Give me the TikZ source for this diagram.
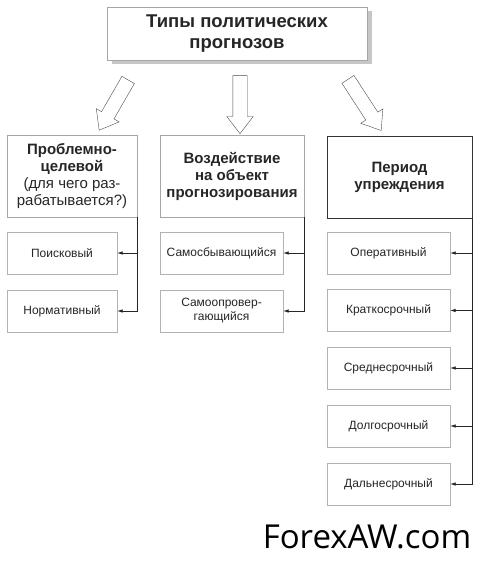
\documentclass[tikz,border=0pt]{standalone}
\usepackage{fontspec}
\setmainfont{Liberation Sans}
\newfontfamily\wmfont{Open Sans}
\usetikzlibrary{shapes.arrows,shadows,arrows.meta}

\begin{document}
\begin{tikzpicture}[x=1pt,y=-1pt,
  box/.style={draw=gray!70, fill=white, align=center, inner sep=2pt, text=black!85},
  head/.style={box, minimum height=82pt, font=\bfseries\fontsize{15}{17}\selectfont},
  leaf/.style={box, draw=gray!60, minimum height=42pt, font=\fontsize{12}{14}\selectfont},
  fat/.style={single arrow, draw=black!70, fill=white, inner xsep=0pt, inner ysep=7pt,
    single arrow head extend=6pt, single arrow tip angle=75, minimum height=58pt},
  link/.style={draw=black!85, line width=0.6pt, -{Latex[length=5.5pt,width=3.5pt]}}]
 \useasboundingbox (0,0) rectangle (480,565);
 % \draw[help lines] (0,0) grid[step=20] (480,565);

 \node[box, minimum width=260pt, minimum height=53pt, font=\bfseries\fontsize{18.5}{21}\selectfont,
   drop shadow={shadow xshift=4.5pt, shadow yshift=-4pt, fill=gray!45, opacity=1}] (top) at (237,33.5) {Типы политических\\прогнозов};

 % block arrows
 \node[fat, rotate=-120] (a1) at (116,101) {};
 \node[fat, rotate=-90] (a2) at (240,100) {};
 \node[fat, rotate=-57, minimum height=61pt] (a3) at (362,101) {};

 % second level
 \node[head, minimum width=130pt] (goal) at (72,176) {Проблемно-\\целевой\\{\mdseries (для чего раз-}\\{\mdseries рабатывается?)}};
 \node[head, minimum width=144pt] (infl) at (232,176) {Воздействие\\на объект\\прогнозирования};
 \node[head, minimum width=145pt, draw=black!80, line width=0.8pt] (lead) at (399.5,177) {Период\\упреждения};

 % leaves
 \node[leaf, minimum width=110pt] (pois) at (62,253) {Поисковый};
 \node[leaf, minimum width=110pt] (norm) at (62,311) {Нормативный};
 \node[leaf, minimum width=123pt] (self) at (221.5,253) {Самосбывающийся};
 \node[leaf, minimum width=123pt] (refu) at (221.5,311) {Самоопровер-\\гающийся};
 \node[leaf, minimum width=123pt] (oper) at (388.5,253) {Оперативный};
 \node[leaf, minimum width=123pt] (shrt) at (388.5,310.5) {Краткосрочный};
 \node[leaf, minimum width=123pt] (midt) at (388.5,368) {Среднесрочный};
 \node[leaf, minimum width=123pt] (long) at (388.5,426) {Долгосрочный};
 \node[leaf, minimum width=123pt] (dist) at (388.5,484) {Дальнесрочный};

 \draw[link] (goal.south east) |- (norm);
 \draw[link] (goal.south east |- pois) -- (pois);
 \draw[link] (infl.south east) |- (refu);
 \draw[link] (infl.south east |- self) -- (self);
 \draw[link] (lead.south east) |- (dist);
 \foreach \n in {oper,shrt,midt,long}
   \draw[link] (lead.south east |- \n) -- (\n);

 \node[font=\wmfont\fontsize{33}{36}\selectfont, text=black] (wm) at (367,537) {ForexAW.com};
\end{tikzpicture}
\end{document}
